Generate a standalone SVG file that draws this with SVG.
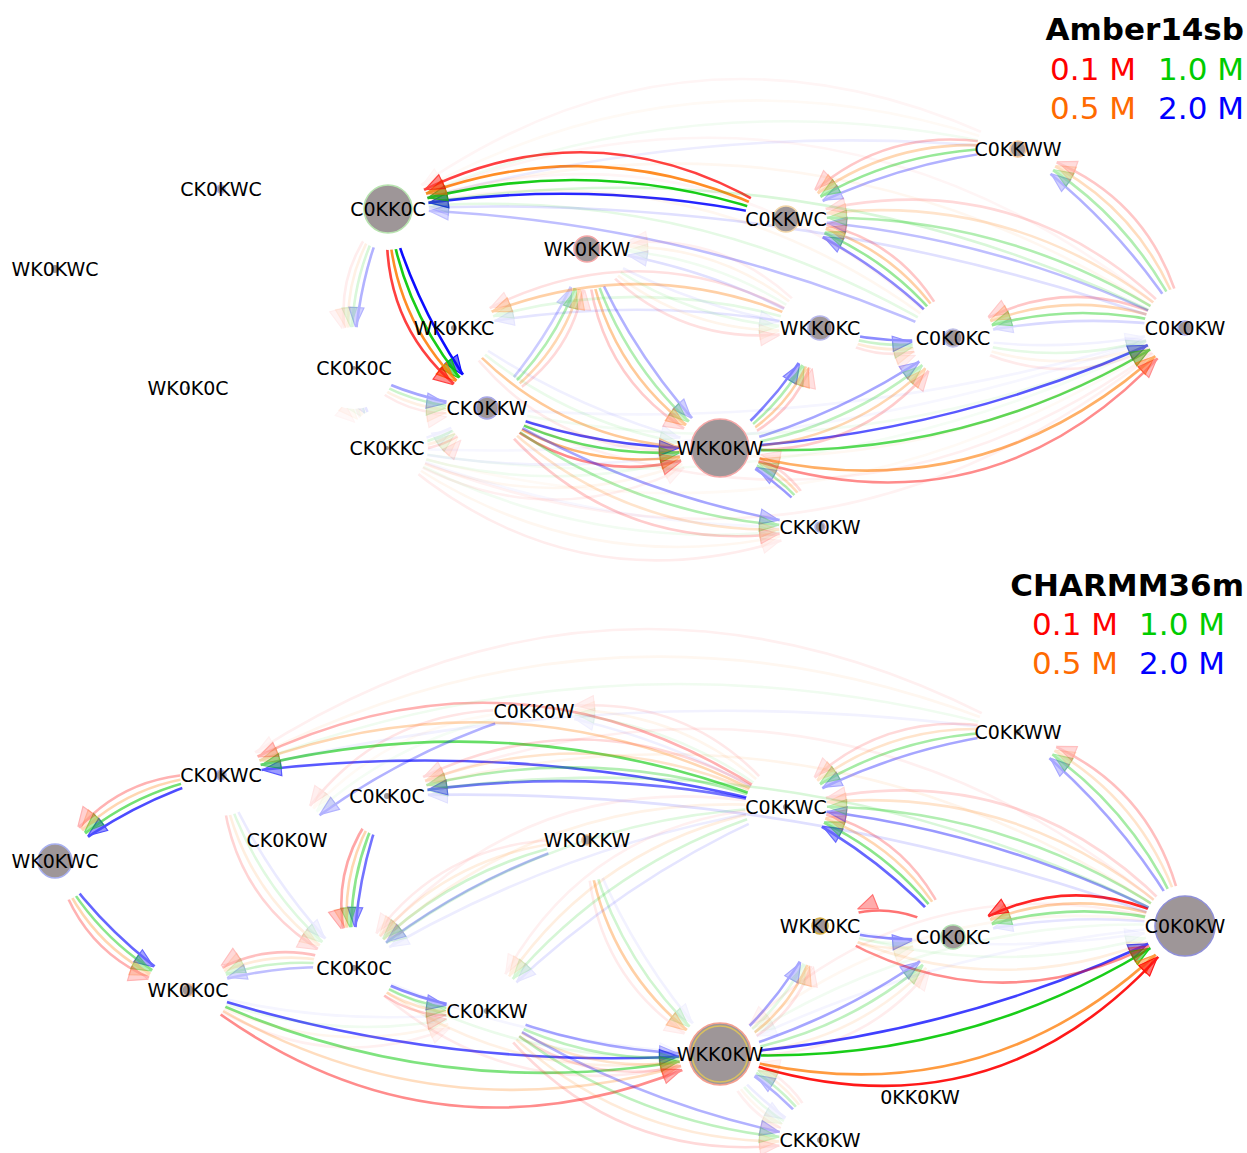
<svg xmlns="http://www.w3.org/2000/svg" width="1247" height="1153" viewBox="0 0 1247 1153">
<style>
  .e path{fill:none;stroke-width:2.6}
  .r{stroke:#ff0000;marker-end:url(#hr)}
  .o{stroke:#ff7a00;marker-end:url(#ho)}
  .g{stroke:#00c800;marker-end:url(#hg)}
  .b{stroke:#0000ff;marker-end:url(#hb)}
  .node circle{fill:#9e9698;stroke-width:1.6}
  .node text{font-family:"DejaVu Sans","Liberation Sans",sans-serif;font-size:19px;fill:#000;text-anchor:middle}
  .title{font-family:"DejaVu Sans","Liberation Sans",sans-serif;font-size:31px;font-weight:bold;fill:#000;text-anchor:end}
  .leg{font-family:"DejaVu Sans","Liberation Sans",sans-serif;font-size:31px;text-anchor:end}
</style>
<defs>
  <!-- arrowheads: tip sits 41.5px back from the node centre, nudged onto the curve -->
  <marker id="hr" markerUnits="userSpaceOnUse" orient="auto" overflow="visible" markerWidth="1" markerHeight="1">
    <path d="M0 0L-19 -7.5L-19 7.5Z" transform="translate(-41.5,-2) rotate(5)" fill="#ff0000" fill-opacity=".6" stroke="#ff0000" stroke-width="1.2"/>
  </marker>
  <marker id="ho" markerUnits="userSpaceOnUse" orient="auto" overflow="visible" markerWidth="1" markerHeight="1">
    <path d="M0 0L-19 -7.5L-19 7.5Z" transform="translate(-41.5,-1.7) rotate(4.5)" fill="#ff7a00" fill-opacity=".6" stroke="#ff7a00" stroke-width="1.2"/>
  </marker>
  <marker id="hg" markerUnits="userSpaceOnUse" orient="auto" overflow="visible" markerWidth="1" markerHeight="1">
    <path d="M0 0L-19 -7.5L-19 7.5Z" transform="translate(-41.5,-1.3) rotate(3.5)" fill="#00c800" fill-opacity=".6" stroke="#00c800" stroke-width="1.2"/>
  </marker>
  <marker id="hb" markerUnits="userSpaceOnUse" orient="auto" overflow="visible" markerWidth="1" markerHeight="1">
    <path d="M0 0L-19 -7.5L-19 7.5Z" transform="translate(-41.5,-0.8) rotate(2.5)" fill="#0000ff" fill-opacity=".6" stroke="#0000ff" stroke-width="1.2"/>
  </marker>
  <rect id="full" width="1247" height="1153" fill="#fff"/>
  <!-- node clearance masks: hide the edge inside a 41px circle round each end node -->
  <mask id="ma1" maskUnits="userSpaceOnUse" x="0" y="0" width="1247" height="1153"><use href="#full"/><circle cx="388" cy="209" r="41"/></mask>
  <mask id="ma2" maskUnits="userSpaceOnUse" x="0" y="0" width="1247" height="1153"><use href="#full"/><circle cx="786" cy="219" r="41"/></mask>
  <mask id="ma3" maskUnits="userSpaceOnUse" x="0" y="0" width="1247" height="1153"><use href="#full"/><circle cx="1018" cy="149" r="41"/></mask>
  <mask id="ma4" maskUnits="userSpaceOnUse" x="0" y="0" width="1247" height="1153"><use href="#full"/><circle cx="587" cy="249" r="41"/></mask>
  <mask id="ma5" maskUnits="userSpaceOnUse" x="0" y="0" width="1247" height="1153"><use href="#full"/><circle cx="820" cy="328" r="41"/></mask>
  <mask id="ma6" maskUnits="userSpaceOnUse" x="0" y="0" width="1247" height="1153"><use href="#full"/><circle cx="953" cy="338" r="41"/></mask>
  <mask id="ma7" maskUnits="userSpaceOnUse" x="0" y="0" width="1247" height="1153"><use href="#full"/><circle cx="1185" cy="328" r="41"/></mask>
  <mask id="ma8" maskUnits="userSpaceOnUse" x="0" y="0" width="1247" height="1153"><use href="#full"/><circle cx="454" cy="328" r="41"/></mask>
  <mask id="ma9" maskUnits="userSpaceOnUse" x="0" y="0" width="1247" height="1153"><use href="#full"/><circle cx="354" cy="368" r="41"/></mask>
  <mask id="ma10" maskUnits="userSpaceOnUse" x="0" y="0" width="1247" height="1153"><use href="#full"/><circle cx="487" cy="408" r="41"/></mask>
  <mask id="ma11" maskUnits="userSpaceOnUse" x="0" y="0" width="1247" height="1153"><use href="#full"/><circle cx="387" cy="448" r="41"/></mask>
  <mask id="ma12" maskUnits="userSpaceOnUse" x="0" y="0" width="1247" height="1153"><use href="#full"/><circle cx="720" cy="448" r="41"/></mask>
  <mask id="ma13" maskUnits="userSpaceOnUse" x="0" y="0" width="1247" height="1153"><use href="#full"/><circle cx="820" cy="527" r="41"/></mask>
  <mask id="mb1" maskUnits="userSpaceOnUse" x="0" y="0" width="1247" height="1153"><use href="#full"/><circle cx="534" cy="711" r="41"/></mask>
  <mask id="mb2" maskUnits="userSpaceOnUse" x="0" y="0" width="1247" height="1153"><use href="#full"/><circle cx="1018" cy="732" r="41"/></mask>
  <mask id="mb3" maskUnits="userSpaceOnUse" x="0" y="0" width="1247" height="1153"><use href="#full"/><circle cx="221" cy="775" r="41"/></mask>
  <mask id="mb4" maskUnits="userSpaceOnUse" x="0" y="0" width="1247" height="1153"><use href="#full"/><circle cx="387" cy="796" r="41"/></mask>
  <mask id="mb5" maskUnits="userSpaceOnUse" x="0" y="0" width="1247" height="1153"><use href="#full"/><circle cx="786" cy="807" r="41"/></mask>
  <mask id="mb6" maskUnits="userSpaceOnUse" x="0" y="0" width="1247" height="1153"><use href="#full"/><circle cx="287" cy="840" r="41"/></mask>
  <mask id="mb7" maskUnits="userSpaceOnUse" x="0" y="0" width="1247" height="1153"><use href="#full"/><circle cx="587" cy="840" r="41"/></mask>
  <mask id="mb8" maskUnits="userSpaceOnUse" x="0" y="0" width="1247" height="1153"><use href="#full"/><circle cx="55" cy="861" r="41"/></mask>
  <mask id="mb9" maskUnits="userSpaceOnUse" x="0" y="0" width="1247" height="1153"><use href="#full"/><circle cx="820" cy="926" r="41"/></mask>
  <mask id="mb10" maskUnits="userSpaceOnUse" x="0" y="0" width="1247" height="1153"><use href="#full"/><circle cx="953" cy="937" r="41"/></mask>
  <mask id="mb11" maskUnits="userSpaceOnUse" x="0" y="0" width="1247" height="1153"><use href="#full"/><circle cx="1185" cy="926" r="41"/></mask>
  <mask id="mb12" maskUnits="userSpaceOnUse" x="0" y="0" width="1247" height="1153"><use href="#full"/><circle cx="354" cy="968" r="41"/></mask>
  <mask id="mb13" maskUnits="userSpaceOnUse" x="0" y="0" width="1247" height="1153"><use href="#full"/><circle cx="188" cy="990" r="41"/></mask>
  <mask id="mb14" maskUnits="userSpaceOnUse" x="0" y="0" width="1247" height="1153"><use href="#full"/><circle cx="487" cy="1011" r="41"/></mask>
  <mask id="mb15" maskUnits="userSpaceOnUse" x="0" y="0" width="1247" height="1153"><use href="#full"/><circle cx="720" cy="1054" r="41"/></mask>
  <mask id="mb17" maskUnits="userSpaceOnUse" x="0" y="0" width="1247" height="1153"><use href="#full"/><circle cx="820" cy="1140" r="41"/></mask>
</defs>
<rect width="1247" height="1153" fill="#fff"/>

<!-- ===== Amber14sb transitions (red 0.1 M, orange 0.5 M, green 1.0 M, blue 2.0 M) ===== -->
<g id="amber-connectors" class="e">
  <g mask="url(#ma2)"><g mask="url(#ma1)">
    <path class="b" d="M786 219Q588 174.2 388 209" opacity=".85"/>
    <path class="g" d="M786 219Q588.7 146.3 388 209" opacity=".9"/>
    <path class="o" d="M786 219Q589.4 118.5 388 209" opacity=".85"/>
    <path class="r" d="M786 219Q590.1 90.6 388 209" opacity=".75"/>
  </g></g>
  <g mask="url(#ma1)"><g mask="url(#ma10)">
    <path class="b" d="M388 209Q417.6 318.4 487 408" opacity=".95"/>
    <path class="g" d="M388 209Q403.7 325.3 487 408" opacity=".9"/>
    <path class="o" d="M388 209Q389.7 332.3 487 408" opacity=".85"/>
    <path class="r" d="M388 209Q375.8 339.2 487 408" opacity=".75"/>
  </g></g>
  <g mask="url(#ma10)"><g mask="url(#ma12)">
    <path class="b" d="M487 408Q599.5 451.3 720 448" opacity=".7"/>
    <path class="g" d="M487 408Q596.7 467.6 720 448" opacity=".6"/>
    <path class="o" d="M487 408Q593.9 483.9 720 448" opacity=".55"/>
    <path class="r" d="M487 408Q591.1 500.2 720 448" opacity=".45"/>
  </g></g>
  <g mask="url(#ma12)"><g mask="url(#ma7)">
    <path class="b" d="M720 448Q964.5 434.5 1185 328" opacity=".65"/>
    <path class="g" d="M720 448Q972.9 467.1 1185 328" opacity=".65"/>
    <path class="o" d="M720 448Q988.5 527.5 1185 328" opacity=".6"/>
    <path class="r" d="M720 448Q995.7 555.4 1185 328" opacity=".45"/>
  </g></g>
  <g mask="url(#ma7)"><g mask="url(#ma3)">
    <path class="b" d="M1185 328Q1119.4 221.8 1018 149" opacity=".3"/>
    <path class="g" d="M1185 328Q1131.9 210.1 1018 149" opacity=".3"/>
    <path class="o" d="M1185 328Q1144.5 198.4 1018 149" opacity=".25"/>
    <path class="r" d="M1185 328Q1157 186.7 1018 149" opacity=".22"/>
  </g></g>
  <g mask="url(#ma3)"><g mask="url(#ma2)">
    <path class="b" d="M1018 149Q895 160.8 786 219" opacity=".3"/>
    <path class="g" d="M1018 149Q890.1 144.6 786 219" opacity=".4"/>
    <path class="o" d="M1018 149Q885.2 128.3 786 219" opacity=".3"/>
    <path class="r" d="M1018 149Q880.3 112.1 786 219" opacity=".22"/>
  </g></g>
  <g mask="url(#ma6)"><g mask="url(#ma2)">
    <path class="b" d="M953 338Q881.4 261.8 786 219" opacity=".45"/>
    <path class="g" d="M953 338Q889.7 250.1 786 219" opacity=".4"/>
    <path class="o" d="M953 338Q898.1 238.4 786 219" opacity=".35"/>
    <path class="r" d="M953 338Q906.4 226.7 786 219" opacity=".22"/>
  </g></g>
  <g mask="url(#ma7)"><g mask="url(#ma6)">
    <path class="b" d="M1185 328Q1068 309.8 953 338" opacity=".15"/>
    <path class="g" d="M1185 328Q1067.3 293.6 953 338" opacity=".4"/>
    <path class="o" d="M1185 328Q1066.6 277.3 953 338" opacity=".3"/>
    <path class="r" d="M1185 328Q1065.9 261.1 953 338" opacity=".22"/>
    <path class="b" d="M953 338Q1070 356.2 1185 328" opacity=".05"/>
    <path class="g" d="M953 338Q1070.7 372.4 1185 328" opacity=".1"/>
    <path class="o" d="M953 338Q1071.4 388.7 1185 328" opacity=".07"/>
    <path class="r" d="M953 338Q1072.1 404.9 1185 328" opacity=".08"/>
  </g></g>
  <g mask="url(#ma5)"><g mask="url(#ma6)">
    <path class="b" d="M820 328Q885.5 346.3 953 338" opacity=".45"/>
    <path class="g" d="M820 328Q884.8 355.6 953 338" opacity=".2"/>
    <path class="o" d="M820 328Q884.1 364.9 953 338" opacity=".15"/>
    <path class="r" d="M820 328Q883.4 374.2 953 338" opacity=".1"/>
  </g></g>
  <g mask="url(#ma12)"><g mask="url(#ma5)">
    <path class="b" d="M720 448Q782 398 820 328" opacity=".5"/>
    <path class="g" d="M720 448Q790.4 405 820 328" opacity=".3"/>
    <path class="o" d="M720 448Q798.8 412 820 328" opacity=".35"/>
    <path class="r" d="M720 448Q807.2 419 820 328" opacity=".2"/>
  </g></g>
  <g mask="url(#ma4)"><g mask="url(#ma12)">
    <path class="b" d="M587 249Q633.6 361.8 720 448" opacity=".3"/>
    <path class="g" d="M587 249Q619.7 371.1 720 448" opacity=".3"/>
    <path class="o" d="M587 249Q605.7 380.4 720 448" opacity=".4"/>
    <path class="r" d="M587 249Q591.8 389.7 720 448" opacity=".2"/>
  </g></g>
  <g mask="url(#ma10)"><g mask="url(#ma4)">
    <path class="b" d="M487 408Q552.9 338.5 587 249" opacity=".2"/>
    <path class="g" d="M487 408Q564 345.5 587 249" opacity=".3"/>
    <path class="o" d="M487 408Q575.2 352.5 587 249" opacity=".3"/>
    <path class="r" d="M487 408Q586.3 359.5 587 249" opacity=".15"/>
  </g></g>
  <g mask="url(#ma5)"><g mask="url(#ma8)">
    <path class="b" d="M820 328Q637 291.4 454 328" opacity=".1"/>
    <path class="g" d="M820 328Q637 265.8 454 328" opacity=".1"/>
    <path class="o" d="M820 328Q637 240.2 454 328" opacity=".35"/>
    <path class="r" d="M820 328Q637 214.5 454 328" opacity=".12"/>
  </g></g>
  <g mask="url(#ma13)"><g mask="url(#ma12)">
    <path class="b" d="M820 527Q777.9 477.5 720 448" opacity=".4"/>
    <path class="g" d="M820 527Q783.4 470.5 720 448" opacity=".3"/>
    <path class="o" d="M820 527Q789 463.5 720 448" opacity=".25"/>
    <path class="r" d="M820 527Q794.5 456.5 720 448" opacity=".15"/>
  </g></g>
  <g mask="url(#ma10)"><g mask="url(#ma13)">
    <path class="b" d="M487 408Q641.6 500.8 820 527" opacity=".35"/>
    <path class="g" d="M487 408Q633.3 524.1 820 527" opacity=".3"/>
    <path class="o" d="M487 408Q625 547.4 820 527" opacity=".2"/>
    <path class="r" d="M487 408Q616.6 570.7 820 527" opacity=".2"/>
  </g></g>
  <g mask="url(#ma11)"><g mask="url(#ma13)">
    <path class="b" d="M387 448Q595.6 530.8 820 527" opacity=".03"/>
    <path class="g" d="M387 448Q590.1 561.1 820 527" opacity=".05"/>
    <path class="o" d="M387 448Q584.5 591.4 820 527" opacity=".06"/>
    <path class="r" d="M387 448Q579 621.7 820 527" opacity=".07"/>
  </g></g>
  <g mask="url(#ma7)"><g mask="url(#ma2)">
    <path class="b" d="M1185 328Q996.4 233.6 786 219" opacity=".25"/>
    <path class="g" d="M1185 328Q1004 205.7 786 219" opacity=".3"/>
    <path class="o" d="M1185 328Q1011.7 177.7 786 219" opacity=".2"/>
    <path class="r" d="M1185 328Q1019.3 149.8 786 219" opacity=".15"/>
  </g></g>
  <g mask="url(#ma6)"><g mask="url(#ma1)">
    <path class="b" d="M953 338Q683.4 217 388 209" opacity=".25"/>
    <path class="g" d="M953 338Q692.4 177.4 388 209" opacity=".1"/>
    <path class="o" d="M953 338Q701.5 137.9 388 209" opacity=".06"/>
    <path class="r" d="M953 338Q710.5 98.4 388 209" opacity=".04"/>
  </g></g>
  <g mask="url(#ma7)"><g mask="url(#ma1)">
    <path class="b" d="M1185 328Q798.4 188.8 388 209" opacity=".12"/>
    <path class="g" d="M1185 328Q806.7 133 388 209" opacity=".15"/>
    <path class="o" d="M1185 328Q815.1 77.2 388 209" opacity=".06"/>
    <path class="r" d="M1185 328Q823.4 21.4 388 209" opacity=".04"/>
  </g></g>
  <g mask="url(#ma3)"><g mask="url(#ma1)">
    <path class="b" d="M1018 149Q697 116 388 209" opacity=".07"/>
    <path class="g" d="M1018 149Q692.8 71.9 388 209" opacity=".05"/>
    <path class="o" d="M1018 149Q688.6 27.8 388 209" opacity=".04"/>
    <path class="r" d="M1018 149Q684.4 -16.3 388 209" opacity=".04"/>
  </g></g>
  <g mask="url(#ma1)"><g mask="url(#ma9)">
    <path class="b" d="M388 209Q355.1 285.1 354 368" opacity=".3"/>
    <path class="g" d="M388 209Q344 282.7 354 368" opacity=".15"/>
    <path class="o" d="M388 209Q332.8 280.3 354 368" opacity=".1"/>
    <path class="r" d="M388 209Q321.7 277.9 354 368" opacity=".07"/>
  </g></g>
  <g mask="url(#ma9)"><g mask="url(#ma10)">
    <path class="b" d="M354 368Q416.5 401.3 487 408" opacity=".35"/>
    <path class="g" d="M354 368Q413.7 410.6 487 408" opacity=".2"/>
    <path class="o" d="M354 368Q410.9 419.9 487 408" opacity=".1"/>
    <path class="r" d="M354 368Q408.1 429.2 487 408" opacity=".08"/>
  </g></g>
  <g mask="url(#ma11)"><g mask="url(#ma10)">
    <path class="b" d="M387 448Q441 438 487 408" opacity=".06"/>
    <path class="g" d="M387 448Q443.8 445 487 408" opacity=".12"/>
    <path class="o" d="M387 448Q446.6 452 487 408" opacity=".1"/>
    <path class="r" d="M387 448Q449.4 459 487 408" opacity=".12"/>
  </g></g>
  <g mask="url(#ma8)"><g mask="url(#ma12)">
    <path class="b" d="M454 328Q575 414.6 720 448" opacity=".06"/>
    <path class="g" d="M454 328Q566.6 433.2 720 448" opacity=".08"/>
    <path class="o" d="M454 328Q558.2 451.8 720 448" opacity=".4"/>
    <path class="r" d="M454 328Q549.8 470.5 720 448" opacity=".08"/>
  </g></g>
  <g mask="url(#ma12)"><g mask="url(#ma6)">
    <path class="b" d="M720 448Q847.5 416.3 953 338" opacity=".35"/>
    <path class="g" d="M720 448Q855.2 432.6 953 338" opacity=".25"/>
    <path class="o" d="M720 448Q862.9 448.9 953 338" opacity=".3"/>
    <path class="r" d="M720 448Q870.6 465.2 953 338" opacity=".2"/>
  </g></g>
  <g mask="url(#ma5)"><g mask="url(#ma4)">
    <path class="b" d="M820 328Q711.4 265.2 587 249" opacity=".12"/>
    <path class="g" d="M820 328Q716.9 248.9 587 249" opacity=".06"/>
    <path class="o" d="M820 328Q722.5 232.6 587 249" opacity=".08"/>
    <path class="r" d="M820 328Q728 216.3 587 249" opacity=".06"/>
    <path class="b" d="M587 249Q695.6 311.8 820 328" opacity=".06"/>
    <path class="g" d="M587 249Q690.1 328.1 820 328" opacity=".08"/>
    <path class="o" d="M587 249Q684.5 344.4 820 328" opacity=".08"/>
    <path class="r" d="M587 249Q679 360.7 820 328" opacity=".12"/>
  </g></g>
  <g mask="url(#ma11)"><g mask="url(#ma12)">
    <path class="b" d="M387 448Q553.5 481.3 720 448" opacity=".05"/>
    <path class="g" d="M387 448Q553.5 504.6 720 448" opacity=".06"/>
    <path class="o" d="M387 448Q553.5 527.9 720 448" opacity=".06"/>
    <path class="r" d="M387 448Q553.5 551.2 720 448" opacity=".06"/>
  </g></g>
  <g mask="url(#ma9)"><g mask="url(#ma11)">
    <path class="b" d="M354 368Q362.5 411.3 387 448" opacity=".1"/>
    <path class="g" d="M354 368Q356.9 413.6 387 448" opacity=".05"/>
    <path class="o" d="M354 368Q351.3 415.9 387 448" opacity=".06"/>
    <path class="r" d="M354 368Q345.7 418.2 387 448" opacity=".04"/>
  </g></g>
  <g mask="url(#ma11)"><g mask="url(#ma7)">
    <path class="b" d="M387 448Q798 467.8 1185 328" opacity=".03"/>
    <path class="g" d="M387 448Q806.4 523.7 1185 328" opacity=".04"/>
    <path class="o" d="M387 448Q814.8 579.5 1185 328" opacity=".04"/>
    <path class="r" d="M387 448Q823.2 635.4 1185 328" opacity=".05"/>
  </g></g>
  <g mask="url(#ma10)"><g mask="url(#ma7)">
    <path class="b" d="M487 408Q844 437.8 1185 328" opacity=".04"/>
    <path class="g" d="M487 408Q849.6 486.7 1185 328" opacity=".05"/>
    <path class="o" d="M487 408Q855.2 535.5 1185 328" opacity=".05"/>
    <path class="r" d="M487 408Q860.8 584.4 1185 328" opacity=".06"/>
  </g></g>
</g>

<!-- ===== CHARMM36m transitions ===== -->
<g id="charmm-connectors" class="e">
  <g mask="url(#mb5)"><g mask="url(#mb3)">
    <path class="b" d="M786 807Q506.7 734.5 221 775" opacity=".65"/>
    <path class="g" d="M786 807Q508.9 695 221 775" opacity=".6"/>
    <path class="o" d="M786 807Q511.2 655.4 221 775" opacity=".3"/>
    <path class="r" d="M786 807Q513.4 615.9 221 775" opacity=".3"/>
  </g></g>
  <g mask="url(#mb5)"><g mask="url(#mb4)">
    <path class="b" d="M786 807Q587.6 761.6 387 796" opacity=".55"/>
    <path class="g" d="M786 807Q588.4 733.7 387 796" opacity=".3"/>
    <path class="o" d="M786 807Q589.1 705.7 387 796" opacity=".2"/>
    <path class="r" d="M786 807Q589.9 677.8 387 796" opacity=".15"/>
  </g></g>
  <g mask="url(#mb3)"><g mask="url(#mb8)">
    <path class="b" d="M221 775Q129.4 801.4 55 861" opacity=".7"/>
    <path class="g" d="M221 775Q123.4 789.8 55 861" opacity=".55"/>
    <path class="o" d="M221 775Q117.4 778.2 55 861" opacity=".3"/>
    <path class="r" d="M221 775Q111.3 766.5 55 861" opacity=".3"/>
  </g></g>
  <g mask="url(#mb8)"><g mask="url(#mb13)">
    <path class="b" d="M55 861Q108.6 938.8 188 990" opacity=".6"/>
    <path class="g" d="M55 861Q99.6 948.1 188 990" opacity=".45"/>
    <path class="o" d="M55 861Q90.5 957.4 188 990" opacity=".3"/>
    <path class="r" d="M55 861Q81.5 966.7 188 990" opacity=".3"/>
  </g></g>
  <g mask="url(#mb13)"><g mask="url(#mb15)">
    <path class="b" d="M188 990Q447.6 1075.2 720 1054" opacity=".65"/>
    <path class="g" d="M188 990Q443.1 1112.4 720 1054" opacity=".5"/>
    <path class="o" d="M188 990Q438.6 1149.7 720 1054" opacity=".25"/>
    <path class="r" d="M188 990Q434.2 1186.9 720 1054" opacity=".45"/>
  </g></g>
  <g mask="url(#mb15)"><g mask="url(#mb11)">
    <path class="b" d="M720 1054Q965.3 1036.5 1185 926" opacity=".75"/>
    <path class="g" d="M720 1054Q974.3 1069.1 1185 926" opacity=".9"/>
    <path class="o" d="M720 1054Q990.9 1129.5 1185 926" opacity=".75"/>
    <path class="r" d="M720 1054Q998.6 1157.4 1185 926" opacity=".9"/>
  </g></g>
  <g mask="url(#mb11)"><g mask="url(#mb10)">
    <path class="b" d="M1185 926Q1067.9 908.3 953 937" opacity=".1"/>
    <path class="g" d="M1185 926Q1067.1 892 953 937" opacity=".4"/>
    <path class="o" d="M1185 926Q1066.4 875.8 953 937" opacity=".35"/>
    <path class="r" d="M1185 926Q1065.6 859.6 953 937" opacity=".85"/>
  </g></g>
  <g mask="url(#mb11)"><g mask="url(#mb2)">
    <path class="b" d="M1185 926Q1120.9 812.3 1018 732" opacity=".35"/>
    <path class="g" d="M1185 926Q1134.5 800.6 1018 732" opacity=".35"/>
    <path class="o" d="M1185 926Q1148.1 788.9 1018 732" opacity=".2"/>
    <path class="r" d="M1185 926Q1161.6 777.2 1018 732" opacity=".25"/>
  </g></g>
  <g mask="url(#mb2)"><g mask="url(#mb5)">
    <path class="b" d="M1018 732Q894.5 746.3 786 807" opacity=".35"/>
    <path class="g" d="M1018 732Q889.3 730.1 786 807" opacity=".35"/>
    <path class="o" d="M1018 732Q884 713.8 786 807" opacity=".2"/>
    <path class="r" d="M1018 732Q878.8 697.6 786 807" opacity=".15"/>
  </g></g>
  <g mask="url(#mb10)"><g mask="url(#mb5)">
    <path class="b" d="M953 937Q882.5 855.3 786 807" opacity=".6"/>
    <path class="g" d="M953 937Q891.6 843.6 786 807" opacity=".45"/>
    <path class="o" d="M953 937Q900.7 831.9 786 807" opacity=".3"/>
    <path class="r" d="M953 937Q909.8 820.2 786 807" opacity=".25"/>
  </g></g>
  <g mask="url(#mb10)"><g mask="url(#mb9)">
    <path class="r" d="M953 937Q889.9 890.3 820 926" opacity=".55"/>
    <path class="b" d="M820 926Q885.4 944.8 953 937" opacity=".45"/>
    <path class="g" d="M820 926Q884.6 954.1 953 937" opacity=".06"/>
    <path class="o" d="M820 926Q883.9 963.4 953 937" opacity=".12"/>
  </g></g>
  <g mask="url(#mb9)"><g mask="url(#mb11)">
    <path class="b" d="M820 926Q1002.5 962.5 1185 926" opacity=".04"/>
    <path class="g" d="M820 926Q1002.5 988 1185 926" opacity=".06"/>
    <path class="o" d="M820 926Q1002.5 1013.6 1185 926" opacity=".12"/>
    <path class="r" d="M820 926Q1002.5 1039.2 1185 926" opacity=".45"/>
  </g></g>
  <g mask="url(#mb11)"><g mask="url(#mb5)">
    <path class="b" d="M1185 926Q997.4 826.6 786 807" opacity=".4"/>
    <path class="g" d="M1185 926Q1005.7 798.7 786 807" opacity=".3"/>
    <path class="o" d="M1185 926Q1014.1 770.7 786 807" opacity=".2"/>
    <path class="r" d="M1185 926Q1022.4 742.8 786 807" opacity=".15"/>
  </g></g>
  <g mask="url(#mb12)"><g mask="url(#mb14)">
    <path class="b" d="M354 968Q416.2 1002.8 487 1011" opacity=".45"/>
    <path class="g" d="M354 968Q413.2 1012.1 487 1011" opacity=".3"/>
    <path class="o" d="M354 968Q410.2 1021.4 487 1011" opacity=".2"/>
    <path class="r" d="M354 968Q407.2 1030.7 487 1011" opacity=".2"/>
  </g></g>
  <g mask="url(#mb14)"><g mask="url(#mb15)">
    <path class="b" d="M487 1011Q599.2 1055.8 720 1054" opacity=".35"/>
    <path class="g" d="M487 1011Q596.2 1072.1 720 1054" opacity=".25"/>
    <path class="o" d="M487 1011Q593.2 1088.4 720 1054" opacity=".2"/>
    <path class="r" d="M487 1011Q590.2 1104.7 720 1054" opacity=".15"/>
  </g></g>
  <g mask="url(#mb4)"><g mask="url(#mb12)">
    <path class="b" d="M387 796Q353.3 878.7 354 968" opacity=".55"/>
    <path class="g" d="M387 796Q341.3 876.4 354 968" opacity=".45"/>
    <path class="o" d="M387 796Q329.2 874.1 354 968" opacity=".3"/>
    <path class="r" d="M387 796Q317.2 871.8 354 968" opacity=".35"/>
  </g></g>
  <g mask="url(#mb12)"><g mask="url(#mb13)">
    <path class="b" d="M354 968Q268.8 962.4 188 990" opacity=".25"/>
    <path class="g" d="M354 968Q267.3 950.8 188 990" opacity=".2"/>
    <path class="o" d="M354 968Q265.7 939.2 188 990" opacity=".15"/>
    <path class="r" d="M354 968Q264.2 927.5 188 990" opacity=".25"/>
  </g></g>
  <g mask="url(#mb7)"><g mask="url(#mb15)">
    <path class="b" d="M587 840Q632.1 960.3 720 1054" opacity=".05"/>
    <path class="g" d="M587 840Q617.1 969.6 720 1054" opacity=".18"/>
    <path class="o" d="M587 840Q602.1 978.9 720 1054" opacity=".35"/>
    <path class="r" d="M587 840Q587.2 988.2 720 1054" opacity=".08"/>
  </g></g>
  <g mask="url(#mb15)"><g mask="url(#mb9)">
    <path class="b" d="M720 1054Q782.8 1000 820 926" opacity=".35"/>
    <path class="g" d="M720 1054Q791.8 1007 820 926" opacity=".1"/>
    <path class="o" d="M720 1054Q800.7 1014 820 926" opacity=".3"/>
    <path class="r" d="M720 1054Q809.7 1021 820 926" opacity=".1"/>
  </g></g>
  <g mask="url(#mb15)"><g mask="url(#mb10)">
    <path class="b" d="M720 1054Q848.2 1018.8 953 937" opacity=".35"/>
    <path class="g" d="M720 1054Q856.4 1035.1 953 937" opacity=".25"/>
    <path class="o" d="M720 1054Q864.6 1051.4 953 937" opacity=".1"/>
    <path class="r" d="M720 1054Q872.8 1067.7 953 937" opacity=".07"/>
  </g></g>
  <g mask="url(#mb17)"><g mask="url(#mb15)">
    <path class="b" d="M820 1140Q778.6 1087 720 1054" opacity=".3"/>
    <path class="g" d="M820 1140Q784.6 1080 720 1054" opacity=".2"/>
    <path class="o" d="M820 1140Q790.6 1073 720 1054" opacity=".1"/>
    <path class="r" d="M820 1140Q796.7 1066 720 1054" opacity=".07"/>
    <path class="b" d="M720 1054Q761.4 1107 820 1140" opacity=".07"/>
    <path class="g" d="M720 1054Q755.4 1114 820 1140" opacity=".08"/>
    <path class="o" d="M720 1054Q749.4 1121 820 1140" opacity=".06"/>
    <path class="r" d="M720 1054Q743.3 1128 820 1140" opacity=".06"/>
  </g></g>
  <g mask="url(#mb14)"><g mask="url(#mb17)">
    <path class="b" d="M487 1011Q640.6 1108.8 820 1140" opacity=".3"/>
    <path class="g" d="M487 1011Q631.6 1132.1 820 1140" opacity=".25"/>
    <path class="o" d="M487 1011Q622.5 1155.4 820 1140" opacity=".15"/>
    <path class="r" d="M487 1011Q613.5 1178.7 820 1140" opacity=".15"/>
  </g></g>
  <g mask="url(#mb1)"><g mask="url(#mb6)">
    <path class="b" d="M534 711Q397.6 750.8 287 840" opacity=".3"/>
    <path class="g" d="M534 711Q388.6 733.5 287 840" opacity=".04"/>
    <path class="o" d="M534 711Q379.5 716.2 287 840" opacity=".04"/>
    <path class="r" d="M534 711Q370.5 698.9 287 840" opacity=".1"/>
  </g></g>
  <g mask="url(#mb3)"><g mask="url(#mb12)">
    <path class="b" d="M221 775Q268.2 884.8 354 968" opacity=".08"/>
    <path class="g" d="M221 775Q254.7 894.1 354 968" opacity=".12"/>
    <path class="o" d="M221 775Q241.2 903.4 354 968" opacity=".12"/>
    <path class="r" d="M221 775Q227.7 912.7 354 968" opacity=".17"/>
  </g></g>
  <g mask="url(#mb7)"><g mask="url(#mb12)">
    <path class="b" d="M587 840Q457.7 880.7 354 968" opacity=".28"/>
    <path class="g" d="M587 840Q448.7 864.4 354 968" opacity=".18"/>
    <path class="o" d="M587 840Q439.8 848.1 354 968" opacity=".12"/>
    <path class="r" d="M587 840Q430.8 831.8 354 968" opacity=".08"/>
  </g></g>
  <g mask="url(#mb5)"><g mask="url(#mb12)">
    <path class="b" d="M786 807Q553.9 844.3 354 968" opacity=".07"/>
    <path class="g" d="M786 807Q542.6 814.1 354 968" opacity=".12"/>
    <path class="o" d="M786 807Q531.4 783.8 354 968" opacity=".09"/>
    <path class="r" d="M786 807Q520.1 753.6 354 968" opacity=".06"/>
  </g></g>
  <g mask="url(#mb2)"><g mask="url(#mb3)">
    <path class="b" d="M1018 732Q615.2 673.8 221 775" opacity=".05"/>
    <path class="g" d="M1018 732Q612.2 618 221 775" opacity=".06"/>
    <path class="o" d="M1018 732Q609.2 562.2 221 775" opacity=".06"/>
    <path class="r" d="M1018 732Q606.2 506.4 221 775" opacity=".06"/>
  </g></g>
  <g mask="url(#mb11)"><g mask="url(#mb4)">
    <path class="b" d="M1185 926Q799 781.2 387 796" opacity=".12"/>
    <path class="g" d="M1185 926Q808.1 725.3 387 796" opacity=".15"/>
    <path class="o" d="M1185 926Q817.2 669.5 387 796" opacity=".08"/>
    <path class="r" d="M1185 926Q826.3 613.6 387 796" opacity=".06"/>
  </g></g>
  <g mask="url(#mb5)"><g mask="url(#mb1)">
    <path class="b" d="M786 807Q669.6 733.8 534 711" opacity=".06"/>
    <path class="g" d="M786 807Q676.3 716.2 534 711" opacity=".07"/>
    <path class="o" d="M786 807Q683 698.5 534 711" opacity=".07"/>
    <path class="r" d="M786 807Q689.8 680.9 534 711" opacity=".09"/>
  </g></g>
  <g mask="url(#mb11)"><g mask="url(#mb15)">
    <path class="b" d="M1185 926Q939.7 943.5 720 1054" opacity=".04"/>
    <path class="g" d="M1185 926Q930.7 910.9 720 1054" opacity=".05"/>
    <path class="o" d="M1185 926Q921.8 878.4 720 1054" opacity=".05"/>
    <path class="r" d="M1185 926Q912.8 845.9 720 1054" opacity=".06"/>
  </g></g>
  <g mask="url(#mb13)"><g mask="url(#mb14)">
    <path class="b" d="M188 990Q335.4 1030.4 487 1011" opacity=".04"/>
    <path class="g" d="M188 990Q333.9 1051.3 487 1011" opacity=".06"/>
    <path class="o" d="M188 990Q332.5 1072.3 487 1011" opacity=".07"/>
    <path class="r" d="M188 990Q331 1093.2 487 1011" opacity=".06"/>
  </g></g>
  <g mask="url(#mb12)"><g mask="url(#mb15)">
    <path class="b" d="M354 968Q528.4 1047.6 720 1054" opacity=".04"/>
    <path class="g" d="M354 968Q522.4 1073.2 720 1054" opacity=".08"/>
    <path class="o" d="M354 968Q516.4 1098.8 720 1054" opacity=".1"/>
    <path class="r" d="M354 968Q510.3 1124.5 720 1054" opacity=".08"/>
  </g></g>
  <g mask="url(#mb5)"><g mask="url(#mb14)">
    <path class="b" d="M786 807Q616.1 879.1 487 1011" opacity=".1"/>
    <path class="g" d="M786 807Q601.8 858.2 487 1011" opacity=".16"/>
    <path class="o" d="M786 807Q587.5 837.2 487 1011" opacity=".12"/>
    <path class="r" d="M786 807Q573.3 816.3 487 1011" opacity=".06"/>
  </g></g>
</g>

<!-- ===== Amber14sb nodes ===== -->
<g id="amber-c0kk0c" class="node"><circle cx="388" cy="209" r="24" stroke="#b8e4b0"/><text x="388" y="216">C0KK0C</text></g>
<g id="amber-c0kkwc" class="node"><circle cx="786" cy="219" r="13" stroke="#f2d6a8"/><text x="786" y="226">C0KKWC</text></g>
<g id="amber-c0kkww" class="node"><circle cx="1018" cy="149" r="8" stroke="#f5c89c"/><text x="1018" y="156">C0KKWW</text></g>
<g id="amber-wk0kkw" class="node"><circle cx="587" cy="249" r="13" stroke="#f5a8a8"/><text x="587" y="256">WK0KKW</text></g>
<g id="amber-wkk0kc" class="node"><circle cx="820" cy="328" r="12" stroke="#b8b8ee"/><text x="820" y="335">WKK0KC</text></g>
<g id="amber-c0k0kc" class="node"><circle cx="953" cy="338" r="9" stroke="#c0c0e8"/><text x="953" y="345">C0K0KC</text></g>
<g id="amber-c0k0kw" class="node"><circle cx="1185" cy="328" r="7" stroke="#b0b0ee"/><text x="1185" y="335">C0K0KW</text></g>
<g id="amber-wk0kkc" class="node"><circle cx="454" cy="328" r="3" stroke="none"/><text x="454" y="335">WK0KKC</text></g>
<g id="amber-ck0k0c" class="node"><circle cx="354" cy="368" r="2" stroke="none"/><text x="354" y="375">CK0K0C</text></g>
<g id="amber-ck0kkw" class="node"><circle cx="487" cy="408" r="11" stroke="#a8a8e8"/><text x="487" y="415">CK0KKW</text></g>
<g id="amber-ck0kkc" class="node"><circle cx="387" cy="448" r="2" stroke="none"/><text x="387" y="455">CK0KKC</text></g>
<g id="amber-wkk0kw" class="node"><circle cx="720" cy="448" r="29" stroke="#f5a8a8"/><text x="720" y="455">WKK0KW</text></g>
<g id="amber-ckk0kw" class="node"><circle cx="820" cy="527" r="5" stroke="#b0b0e8"/><text x="820" y="534">CKK0KW</text></g>
<g id="amber-ck0kwc" class="node"><circle cx="221" cy="189" r="4" stroke="#b0b0e8"/><text x="221" y="196">CK0KWC</text></g>
<g id="amber-wk0kwc" class="node"><circle cx="55" cy="269" r="4" stroke="none"/><text x="55" y="276">WK0KWC</text></g>
<g id="amber-wk0k0c" class="node"><circle cx="188" cy="388" r="2" stroke="none"/><text x="188" y="395">WK0K0C</text></g>

<!-- ===== CHARMM36m nodes ===== -->
<g id="charmm-c0kk0w" class="node"><circle cx="534" cy="711" r="2" stroke="none"/><text x="534" y="718">C0KK0W</text></g>
<g id="charmm-c0kkww" class="node"><circle cx="1018" cy="732" r="3" stroke="none"/><text x="1018" y="739">C0KKWW</text></g>
<g id="charmm-ck0kwc" class="node"><circle cx="221" cy="775" r="5" stroke="#b0b0e8"/><text x="221" y="782">CK0KWC</text></g>
<g id="charmm-c0kk0c" class="node"><circle cx="387" cy="796" r="3" stroke="none"/><text x="387" y="803">C0KK0C</text></g>
<g id="charmm-c0kkwc" class="node"><circle cx="786" cy="807" r="3" stroke="none"/><text x="786" y="814">C0KKWC</text></g>
<g id="charmm-ck0k0w" class="node"><circle cx="287" cy="840" r="1" stroke="none"/><text x="287" y="847">CK0K0W</text></g>
<g id="charmm-wk0kkw" class="node"><circle cx="587" cy="840" r="5" stroke="#f0c090"/><text x="587" y="847">WK0KKW</text></g>
<g id="charmm-wk0kwc" class="node"><circle cx="55" cy="861" r="17" stroke="#a8b0f0" stroke-width="3"/><text x="55" y="868">WK0KWC</text></g>
<g id="charmm-wkk0kc" class="node"><circle cx="820" cy="926" r="8" stroke="#d8b048"/><text x="820" y="933">WKK0KC</text></g>
<g id="charmm-c0k0kc" class="node"><circle cx="953" cy="937" r="12" stroke="#b0e0b0"/><text x="953" y="944">C0K0KC</text></g>
<g id="charmm-c0k0kw" class="node"><circle cx="1185" cy="926" r="30" stroke="#9090d8"/><text x="1185" y="933">C0K0KW</text></g>
<g id="charmm-ck0k0c" class="node"><circle cx="354" cy="968" r="3" stroke="none"/><text x="354" y="975">CK0K0C</text></g>
<g id="charmm-wk0k0c" class="node"><circle cx="188" cy="990" r="6" stroke="#f0c0a0"/><text x="188" y="997">WK0K0C</text></g>
<g id="charmm-ck0kkw" class="node"><circle cx="487" cy="1011" r="3" stroke="none"/><text x="487" y="1018">CK0KKW</text></g>
<g id="charmm-wkk0kw" class="node"><circle cx="720" cy="1054" r="31" fill="#e8b890" stroke="#f4a090" stroke-width="1.2"/><circle cx="720" cy="1054" r="28" stroke="#d8c060" stroke-width="2"/><text x="720" y="1061">WKK0KW</text></g>
<g id="charmm-0kk0kw" class="node"><circle cx="920" cy="1097" r="2" stroke="none"/><text x="920" y="1104">0KK0KW</text></g>
<g id="charmm-ckk0kw" class="node"><circle cx="820" cy="1140" r="3" stroke="none"/><text x="820" y="1147">CKK0KW</text></g>

<!-- ===== titles and concentration keys ===== -->
<g id="amber-key">
  <text class="title" x="1244" y="40">Amber14sb</text>
  <text class="leg" x="1136" y="80" fill="#ff0000">0.1 M</text>
  <text class="leg" x="1244" y="80" fill="#00cc00">1.0 M</text>
  <text class="leg" x="1136" y="119" fill="#ff6a00">0.5 M</text>
  <text class="leg" x="1244" y="119" fill="#0000ff">2.0 M</text>
</g>
<g id="charmm-key">
  <text class="title" x="1244" y="596">CHARMM36m</text>
  <text class="leg" x="1118" y="635" fill="#ff0000">0.1 M</text>
  <text class="leg" x="1225" y="635" fill="#00cc00">1.0 M</text>
  <text class="leg" x="1118" y="674" fill="#ff6a00">0.5 M</text>
  <text class="leg" x="1225" y="674" fill="#0000ff">2.0 M</text>
</g>
</svg>
